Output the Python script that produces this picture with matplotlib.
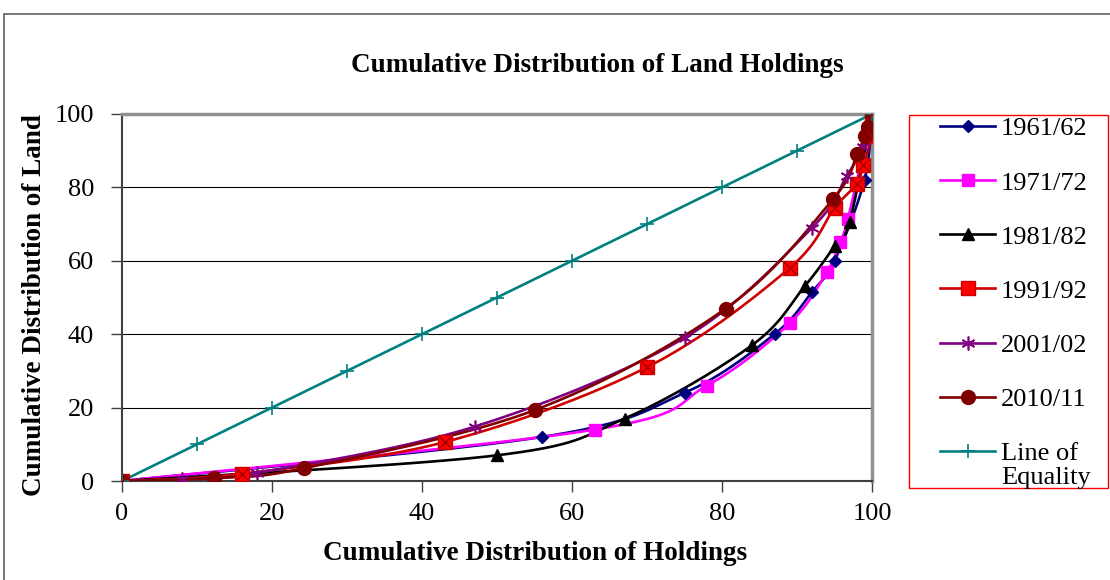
import numpy as np
import matplotlib
matplotlib.use('Agg')
import matplotlib.pyplot as plt
from matplotlib.patches import Rectangle

# cumulative % of holdings (x) and cumulative % of land (y)
x_6162 = [0, 56, 75, 87, 92, 95, 99, 100]
y_6162 = [0, 12, 24, 40, 51.5, 60, 82, 100]
x_7172 = [0, 63, 78, 89, 94, 95.7, 96.8, 100]
y_7172 = [0, 14, 26, 43, 57, 65, 71.5, 100]
x_8182 = [0, 50, 67, 84, 91, 95, 97, 100]
y_8182 = [0, 7, 17, 37, 53, 64, 70.5, 100]
x_9192 = [0, 16, 43, 70, 89, 95, 98, 98.8, 100, 100]
y_9192 = [0, 2, 10.6, 31, 58, 74.4, 81, 86, 94, 100]
x_0102 = [0, 8, 18, 47, 75, 92, 96.6, 98.8, 100]
y_0102 = [0, 0.5, 2.2, 14.8, 39, 69, 83, 91, 100]
x_1011 = [0, 12.3, 24.3, 55, 80.5, 94.8, 98, 99, 99.5, 100]
y_1011 = [0, 0.8, 3.5, 19.3, 47, 76.8, 89, 94, 96.5, 100]
x_equal = [0, 10, 20, 30, 40, 50, 60, 70, 80, 90, 100]
y_equal = [0, 10, 20, 30, 40, 50, 60, 70, 80, 90, 100]


def smooth(xs, ys, n=30):
    # Excel-style smoothed line: cubic Bezier through the points
    p = np.column_stack([xs, ys]).astype(float)
    ext = np.vstack([p[0], p, p[-1]])
    out = [p[0]]
    t = np.linspace(0, 1, n)[1:, None]
    for i in range(len(p) - 1):
        p0, p3 = p[i], p[i + 1]
        c1 = p0 + (ext[i + 2] - ext[i]) / 6.0
        c2 = p3 - (ext[i + 3] - ext[i + 1]) / 6.0
        seg = ((1 - t) ** 3) * p0 + 3 * ((1 - t) ** 2) * t * c1 + 3 * (1 - t) * t ** 2 * c2 + t ** 3 * p3
        out.extend(seg)
    out = np.array(out)
    return out[:, 0], out[:, 1]


plt.rcParams['font.family'] = ['Liberation Serif', 'DejaVu Serif']

W, H = 1110, 580
fig = plt.figure(figsize=(W / 100, H / 100), dpi=100)
ax = fig.add_axes([122 / W, 1 - 481 / H, 750 / W, 367 / H])

series = [
    (x_6162, y_6162, '1961/62', '#000080', dict(marker='D', ms=6, mfc='#000080', mec='#000080')),
    (x_7172, y_7172, '1971/72', '#FF00FF', dict(marker='s', ms=9, mfc='#FF00FF', mec='#FF00FF')),
    (x_8182, y_8182, '1981/82', '#000000', dict(marker='^', ms=9, mfc='#000000', mec='#000000')),
    (x_9192, y_9192, '1991/92', '#D00000', dict(marker='s', ms=10, mfc='#FF0000', mec='#CC0000')),
    (x_0102, y_0102, '2001/02', '#800080', dict(marker=(6, 2, 0), ms=10, mfc='#800080', mec='#800080', mew=1.2)),
    (x_1011, y_1011, '2010/11', '#800000', dict(marker='o', ms=10, mfc='#800000', mec='#800000')),
    (x_equal, y_equal, 'Line of', '#008080', dict(marker='+', ms=10, mfc='#008080', mec='#008080', mew=1.2)),
]

handles = []
for xs, ys, label, color, mk in series:
    sx, sy = smooth(xs, ys)
    ax.plot(sx, sy, color=color, lw=1.9, zorder=3)
    ax.plot(xs, ys, ls='none', zorder=4, **mk)
    if label == '1991/92':
        ax.plot(xs, ys, ls='none', marker='x', ms=8, mec='#A00000', mew=1.0, zorder=5)
    h, = ax.plot([], [], color=color, lw=1.9, **mk)
    handles.append(h)

ax.set_xlim(0, 100)
ax.set_ylim(0, 100)
ax.set_xticks(np.arange(0, 101, 20))
ax.set_yticks(np.arange(0, 101, 20))
ax.yaxis.grid(True, color='#000000', lw=0.8)
ax.set_axisbelow(True)
for side in ['left', 'bottom']:
    ax.spines[side].set_color('#404040')
    ax.spines[side].set_linewidth(1.5)
ax.spines['right'].set_color('#909090')
ax.spines['right'].set_linewidth(2.5)
ax.spines['top'].set_color('#909090')
ax.spines['top'].set_linewidth(2.5)
ax.tick_params(axis='both', direction='out', length=8, width=1, color='#404040',
               labelsize=19)
ax.tick_params(axis='y', pad=12)
ax.tick_params(axis='x', pad=8)

fig.text(597 / W, 1 - 65 / H, 'Cumulative Distribution of Land Holdings', fontsize=19.5,
         fontweight='bold', ha='center', va='center')
fig.text(535 / W, 1 - 553 / H, 'Cumulative Distribution of Holdings', fontsize=19.5,
         fontweight='bold', ha='center', va='center')
fig.text(35 / W, 1 - 305 / H, 'Cumulative Distribution of Land', fontsize=19.5,
         fontweight='bold', ha='center', va='center', rotation=90)

leg = fig.legend(handles, [s[2] for s in series], loc='upper left',
                 bbox_to_anchor=(940 / W, 1 - 117 / H), fontsize=19, frameon=False,
                 handlelength=2.1, handletextpad=0.2,
                 labelspacing=1.16, borderpad=0, borderaxespad=0)
# second line of the last legend label, as in the original
fig.text(1001 / W, 1 - 478 / H, 'Equality', fontsize=19, ha='left', va='center')

# legend frame and outer chart border
fig.add_artist(Rectangle((909 / W, 1 - 488 / H), 199 / W, 373 / H,
                         transform=fig.transFigure, fill=False,
                         edgecolor='#FF0000', lw=1.0))
fig.add_artist(Rectangle((4 / W, -0.01), 1.1, 1 - 14 / H + 0.01,
                         transform=fig.transFigure, fill=False,
                         edgecolor='#606060', lw=1.2))

fig.savefig('out.png', dpi=100)
